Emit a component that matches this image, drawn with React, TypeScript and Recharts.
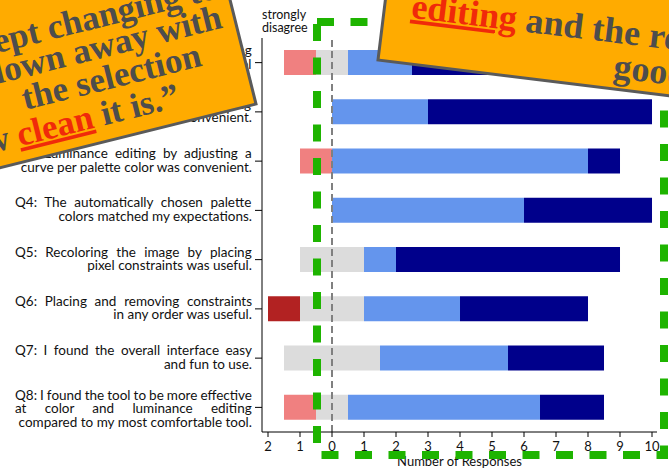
import React from "react";
import { BarChart, Bar, XAxis, YAxis, ReferenceLine } from "recharts";

const categories = ["Q1", "Q2", "Q3", "Q4", "Q5", "Q6", "Q7", "Q8"];
const stronglyDisagree = [0, 0, 0, 0, 0, 1, 0, 0];
const disagree = [1, 0, 1, 0, 0, 0, 0, 1];
const neutral = [1, 0, 0, 0, 2, 2, 3, 1];
const agree = [2, 3, 8, 6, 1, 3, 4, 6];
const stronglyAgree = [6, 7, 1, 4, 7, 4, 3, 2];
const xTicks = [-2, -1, 0, 1, 2, 3, 4, 5, 6, 7, 8, 9, 10];

const questionLines = [
  ["Q1: Recoloring the image by dragging", "palette colors in the RGB color wheel", "was useful."],
  ["Q2: Color editing by directly dragging", "palette colors was convenient."],
  ["Q3: Luminance editing by adjusting a", "curve per palette color was convenient."],
  ["Q4: The automatically chosen palette", "colors matched my expectations."],
  ["Q5: Recoloring the image by placing", "pixel constraints was useful."],
  ["Q6: Placing and removing constraints", "in any order was useful."],
  ["Q7: I found the overall interface easy", "and fun to use."],
  ["Q8: I found the tool to be more effective", "at color and luminance editing", "compared to my most comfortable tool."],
];

const quoteLeft = ["“The colors kept changing to", "I was blown away with", "the selection", "and ho", "w ", "clean", " it is.”"];
const quoteRight = ["editing", " and the results look", "good.”"];

const data = categories.map((q, i) => ({
  q,
  offset: -(stronglyDisagree[i] + disagree[i] + neutral[i] / 2),
  sd: stronglyDisagree[i],
  d: disagree[i],
  n: neutral[i],
  a: agree[i],
  sa: stronglyAgree[i],
}));

// layout of the wrapped, justified y-axis labels
const LABEL_FONT = "Lato, 'Open Sans', sans-serif";
const LABEL_SIZE = 13.5;
const TEXT_LEFT = 15;
const TEXT_RIGHT = 252;
const LINE_H = 13.6;

let ctx: CanvasRenderingContext2D | null = null;
function textWidth(s: string, font: string): number {
  if (!ctx) {
    const c = document.createElement("canvas");
    ctx = c.getContext("2d");
  }
  if (!ctx) return s.length * 6.5;
  ctx.font = font;
  return ctx.measureText(s).width;
}

const QuestionTick = (props: any) => {
  const { y, payload } = props;
  const idx = categories.indexOf(payload.value);
  const lines = questionLines[idx] || [];
  const n = lines.length;
  const base = n >= 3 ? 6 : 3.8;
  return (
    <g>
      {lines.map((line, i) => {
        const by = y + base + (i - (n - 1) / 2) * LINE_H;
        const last = i === n - 1;
        if (last) {
          return (
            <text key={i} x={TEXT_RIGHT} y={by} textAnchor="end" fontFamily={LABEL_FONT} fontSize={LABEL_SIZE} fill="#111">
              {line}
            </text>
          );
        }
        const w = textWidth(line, `${LABEL_SIZE}px Lato`);
        const spaces = (line.match(/ /g) || []).length;
        const ws = spaces > 0 ? (TEXT_RIGHT - TEXT_LEFT - w) / spaces : 0;
        return (
          <text key={i} x={TEXT_LEFT} y={by} fontFamily={LABEL_FONT} fontSize={LABEL_SIZE} fill="#111" style={{ wordSpacing: `${ws}px` }}>
            {line}
          </text>
        );
      })}
    </g>
  );
};

const GREEN = "#1eb400";
const ORANGE = "#ffab00";
const BORDER = "#5a5a5a";
const QUOTE = "#4d4d4d";
const RED = "#f02a0a";
const QFONT = "'Liberation Serif', 'DejaVu Serif', serif";

export default function App() {
  return (
    <div style={{ position: "absolute", left: 0, top: 0, width: 669, height: 472, background: "#fff" }}>
      <BarChart
        width={669}
        height={472}
        data={data}
        layout="vertical"
        margin={{ top: 38, right: 12, bottom: 0, left: 0 }}
        barSize={25}
      >
        <XAxis
          type="number"
          domain={[-2.1875, 10.156]}
          ticks={xTicks}
          allowDataOverflow
          tickFormatter={(v: number) => String(Math.abs(v))}
          height={40}
          tickSize={5}
          tickMargin={5}
          axisLine={{ stroke: "#000" }}
          tickLine={{ stroke: "#000" }}
          tick={{ fill: "#111", fontSize: 13, fontFamily: LABEL_FONT }}
          label={{ value: "Number of Responses", position: "insideBottom", offset: 6, fill: "#111", fontSize: 13, fontFamily: LABEL_FONT }}
        />
        <XAxis
          xAxisId="top"
          orientation="top"
          type="number"
          domain={[-2.1875, 10.156]}
          allowDataOverflow
          height={0}
          tick={false}
          tickLine={false}
          axisLine={{ stroke: "#000" }}
        />
        <YAxis
          type="category"
          dataKey="q"
          width={262}
          tickSize={7}
          axisLine={{ stroke: "#000" }}
          tickLine={{ stroke: "#000" }}
          tick={<QuestionTick />}
        />
        <YAxis
          yAxisId="right"
          orientation="right"
          type="category"
          dataKey="q"
          width={0}
          tick={false}
          tickLine={false}
          axisLine={{ stroke: "#555", strokeWidth: 2 }}
        />
        <ReferenceLine x={0} stroke="#808080" strokeWidth={2} strokeDasharray="7 4" />
        <Bar dataKey="offset" stackId="s" fill="transparent" isAnimationActive={false} />
        <Bar dataKey="sd" stackId="s" fill="#b22222" isAnimationActive={false} />
        <Bar dataKey="d" stackId="s" fill="#f08080" isAnimationActive={false} />
        <Bar dataKey="n" stackId="s" fill="#dcdcdc" isAnimationActive={false} />
        <Bar dataKey="a" stackId="s" fill="#6495ed" isAnimationActive={false} />
        <Bar dataKey="sa" stackId="s" fill="#00008b" isAnimationActive={false} />
      </BarChart>
      <svg width={669} height={472} style={{ position: "absolute", left: 0, top: 0, pointerEvents: "none" }}>
        <text fontFamily={LABEL_FONT} fontSize={12.5} fill="#111">
          <tspan x={262} y={19}>strongly</tspan>
          <tspan x={262} y={32}>disagree</tspan>
        </text>
        <text fontFamily={LABEL_FONT} fontSize={12.5} fill="#111" textAnchor="end">
          <tspan x={657} y={19}>strongly</tspan>
          <tspan x={657} y={32}>agree</tspan>
        </text>
        <rect x={317} y={22} width={347} height={433} fill="none" stroke={GREEN} strokeWidth={8} strokeDasharray="17 16.5" />
        <g transform="translate(256 104) rotate(-14)">
          <rect x={-640} y={-280} width={640} height={280} fill={ORANGE} stroke={BORDER} strokeWidth={3} />
          <g fontFamily={QFONT} fontWeight="bold" fontSize={35} fill={QUOTE} textAnchor="end">
            <text x={-10} y={-112}>{quoteLeft[0]}</text>
            <text x={-13} y={-82}>{quoteLeft[1]}</text>
            <text x={-42} y={-50}>{quoteLeft[2]}</text>
            <text x={-73} y={-16}>
              <tspan>{quoteLeft[3]}</tspan>
              <tspan>{quoteLeft[4]}</tspan>
              <tspan fill={RED} textDecoration="underline">{quoteLeft[5]}</tspan>
              <tspan>{quoteLeft[6]}</tspan>
            </text>
          </g>
        </g>
        <g transform="translate(378 60) rotate(7)">
          <rect x={0} y={-300} width={700} height={300} fill={ORANGE} stroke={BORDER} strokeWidth={3} />
          <g fontFamily={QFONT} fontWeight="bold" fontSize={36} fill={QUOTE}>
            <text x={27} y={-46}>
              <tspan fill={RED} textDecoration="underline">{quoteRight[0]}</tspan>
              <tspan>{quoteRight[1]}</tspan>
            </text>
            <text x={235} y={-11}>{quoteRight[2]}</text>
          </g>
        </g>
      </svg>
    </div>
  );
}
